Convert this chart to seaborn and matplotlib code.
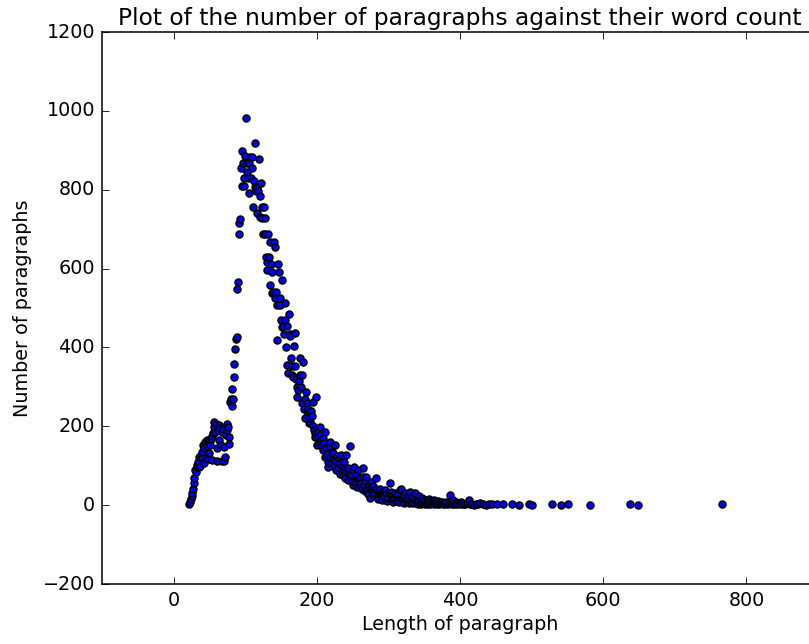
import matplotlib
matplotlib.use("Agg")
import matplotlib.pyplot as plt
import seaborn as sns
import pandas as pd

# Paragraph length (words) and number of paragraphs with that length
lengths = [
    22, 23, 24, 25, 26, 27, 28, 29, 30, 31, 32, 33, 34, 35, 36, 37, 38, 39, 40,
    41, 42, 43, 44, 45, 46, 47, 48, 49, 50, 51, 52, 53, 54, 55, 56, 57, 58, 59, 60,
    61, 62, 63, 64, 65, 66, 67, 68, 69, 70, 71, 72, 73, 74, 75, 76, 77, 78, 79, 80,
    81, 82, 83, 84, 85, 86, 87, 88, 89, 90, 91, 92, 93, 94, 95, 96, 97, 98, 99, 100,
    101, 102, 103, 104, 105, 106, 107, 108, 109, 110, 111, 112, 113, 114, 115, 116, 117, 118, 119, 120,
    121, 122, 123, 124, 125, 126, 127, 128, 129, 130, 131, 132, 133, 134, 135, 136, 137, 138, 139, 140,
    141, 142, 143, 144, 145, 146, 147, 148, 149, 150, 151, 152, 153, 154, 155, 156, 157, 158, 159, 160,
    161, 162, 163, 164, 165, 166, 167, 168, 169, 170, 171, 172, 173, 174, 175, 176, 177, 178, 179, 180,
    181, 182, 183, 184, 185, 186, 187, 188, 189, 190, 191, 192, 193, 194, 195, 196, 197, 198, 199, 200,
    201, 202, 203, 204, 205, 206, 207, 208, 209, 210, 211, 212, 213, 214, 215, 216, 217, 218, 219, 220,
    221, 222, 223, 224, 225, 226, 227, 228, 229, 230, 231, 232, 233, 234, 235, 236, 237, 238, 239, 240,
    241, 242, 243, 244, 245, 246, 247, 248, 249, 250, 251, 252, 253, 254, 255, 256, 257, 258, 259, 260,
    261, 262, 263, 264, 265, 266, 267, 268, 269, 270, 271, 272, 273, 274, 275, 276, 277, 278, 279, 280,
    281, 282, 283, 284, 285, 286, 287, 288, 289, 290, 291, 292, 293, 294, 295, 296, 297, 298, 299, 300,
    301, 302, 303, 304, 305, 306, 307, 308, 309, 310, 311, 312, 313, 314, 315, 316, 317, 318, 319, 320,
    321, 322, 323, 324, 325, 326, 327, 328, 329, 330, 331, 332, 333, 334, 335, 336, 337, 338, 339, 340,
    341, 342, 343, 344, 345, 346, 347, 348, 349, 350, 351, 352, 353, 354, 355, 356, 357, 358, 359, 360,
    362, 363, 364, 365, 367, 368, 369, 370, 372, 373, 375, 376, 378, 379, 381, 383, 384, 386, 387, 389,
    390, 392, 394, 395, 397, 399, 401, 403, 405, 407, 410, 412, 414, 416, 419, 422, 425, 428, 432, 436,
    440, 445, 451, 460, 472, 482, 496, 500, 528, 541, 551, 582, 638, 648, 766,
]

counts = [
    4, 9, 15, 22, 30, 42, 55, 68, 89, 85, 97, 101, 110, 97, 123, 100, 127, 135, 120,
    152, 144, 108, 160, 120, 150, 165, 118, 131, 165, 152, 169, 115, 175, 182, 199, 211, 185, 207, 144,
    112, 190, 203, 165, 195, 152, 112, 185, 194, 112, 148, 123, 178, 190, 207, 199, 173, 156, 261, 270,
    252, 294, 269, 325, 357, 395, 421, 427, 548, 565, 687, 716, 725, 854, 810, 899, 868, 810, 829, 885,
    983, 868, 845, 829, 791, 868, 884, 829, 884, 855, 755, 822, 806, 919, 797, 806, 740, 797, 877, 784,
    731, 818, 727, 755, 687, 755, 727, 687, 630, 617, 596, 687, 630, 668, 558, 611, 592, 537, 541, 668,
    655, 526, 541, 418, 507, 611, 592, 507, 526, 469, 571, 452, 454, 433, 512, 469, 401, 454, 355, 336,
    486, 433, 429, 372, 353, 330, 325, 403, 437, 353, 321, 300, 275, 292, 315, 374, 330, 300, 258, 330,
    362, 245, 268, 222, 287, 258, 240, 245, 209, 211, 220, 238, 225, 200, 262, 190, 182, 172, 275, 152,
    185, 172, 160, 199, 178, 165, 150, 170, 140, 158, 186, 123, 145, 130, 110, 97, 150, 161, 120, 108,
    135, 118, 131, 100, 152, 112, 90, 125, 105, 95, 118, 106, 80, 127, 98, 88, 76, 110, 85, 70,
    127, 92, 65, 93, 80, 150, 72, 76, 60, 88, 51, 97, 66, 58, 78, 45, 62, 89, 55, 68,
    48, 55, 40, 72, 93, 50, 35, 62, 72, 38, 45, 28, 52, 17, 40, 59, 33, 25, 48, 30,
    42, 68, 42, 22, 35, 15, 28, 40, 18, 30, 12, 34, 25, 20, 38, 14, 28, 10, 22, 17,
    30, 55, 12, 34, 20, 8, 25, 15, 30, 10, 22, 18, 12, 28, 8, 38, 15, 42, 20, 10,
    25, 6, 30, 14, 18, 8, 22, 12, 5, 34, 15, 8, 20, 12, 6, 18, 30, 10, 5, 15,
    4, 10, 22, 6, 12, 3, 18, 8, 5, 14, 3, 9, 6, 12, 4, 8, 16, 3, 7, 10,
    5, 12, 3, 8, 6, 4, 10, 3, 7, 5, 9, 3, 6, 4, 8, 3, 5, 25, 6, 3,
    12, 4, 7, 2, 5, 3, 8, 2, 4, 3, 6, 13, 2, 4, 1, 3, 2, 5, 3, 1,
    4, 2, 3, 2, 2, 1, 2, 1, 2, 1, 2, 1, 2, 1, 2,
]

x_ticks = [0, 200, 400, 600, 800]
y_ticks = [-200, 0, 200, 400, 600, 800, 1000, 1200]

plt.style.use("classic")
plt.rcParams["font.family"] = ["DejaVu Sans"]
plt.rcParams["axes.unicode_minus"] = True

df = pd.DataFrame({"length": lengths, "count": counts})

fig = plt.figure(figsize=(8.09, 6.44), dpi=100, facecolor="white")
ax = fig.add_axes([102 / 809, 60 / 644, (818 - 102) / 809, (584 - 32) / 644])
ax.set_facecolor("white")

sns.scatterplot(data=df, x="length", y="count", ax=ax, color="blue",
                edgecolor="black", linewidth=1.1, s=25, zorder=3)

ax.set_xlim(-100, 900)
ax.set_ylim(-200, 1200)
ax.set_xticks(x_ticks)
ax.set_yticks(y_ticks)
ax.tick_params(direction="in", top=True, right=True, labelsize=13.8,
               length=5, width=0.6, pad=5)
for sp in ax.spines.values():
    sp.set_linewidth(1.1)
ax.set_title("Plot of the number of paragraphs against their word count",
             fontsize=16.8, pad=5)
ax.set_xlabel("Length of paragraph", fontsize=13.8, labelpad=4)
ax.set_ylabel("Number of paragraphs", fontsize=13.8, labelpad=8)

fig.savefig("out.png", dpi=100, facecolor="white")
